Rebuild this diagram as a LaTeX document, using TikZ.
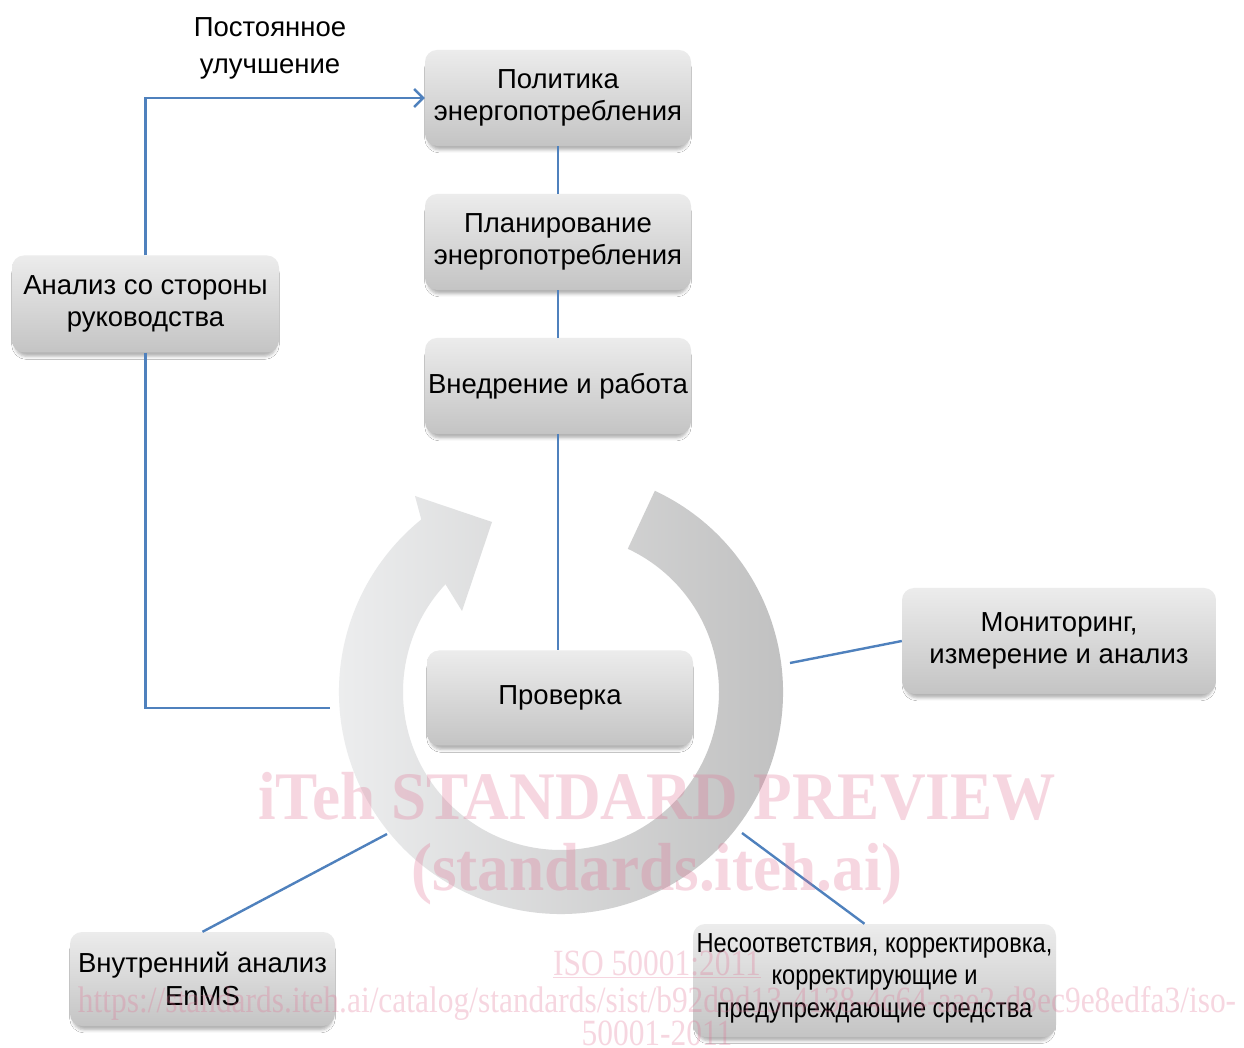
\documentclass[tikz,border=0pt]{standalone}
\usepackage{fontspec}
\setmainfont{Liberation Sans}
\newfontfamily\condfont[FakeStretch=0.86]{Liberation Sans}
\newfontfamily\wmbold[FakeStretch=0.93]{Liberation Serif}
\newfontfamily\wmcond[FakeStretch=0.85]{Liberation Serif}
\usetikzlibrary{arrows.meta,shadows.blur,calc}
\definecolor{lineblue}{RGB}{79,129,189}
\definecolor{boxtop}{RGB}{236,236,236}
\definecolor{boxbot}{RGB}{196,196,196}
\definecolor{ringlight}{RGB}{239,240,241}
\definecolor{ringdark}{RGB}{190,190,190}
\definecolor{wmpink}{RGB}{225,110,145}
\begin{document}
\begin{tikzpicture}[x=1pt,y=1pt,
  stagebox/.style={rounded corners=12pt, top color=boxtop, bottom color=boxbot,
    draw=none, align=center, inner sep=0pt,
    font=\fontsize{27.5}{32.5}\selectfont,
    blur shadow={shadow xshift=0pt, shadow yshift=-5pt, shadow scale=0.98, shadow blur radius=3pt, shadow opacity=30}},
  link/.style={draw=lineblue, line width=2.4pt},
  wm/.style={text=wmpink, opacity=0.28, inner sep=0pt, anchor=base}]
\useasboundingbox[fill=white] (0,0) rectangle (1244,1047);

% circular arrow
\coordinate (rc) at (561,355);
\shade[left color=ringlight, right color=ringdark]
  ($(rc)+(65:222)$) arc[start angle=65, end angle=-231, radius=222]
  -- (415,551) -- (492,525) -- (462,436)
  -- ($(rc)+(137:158)$) arc[start angle=137, end angle=425, radius=158] -- cycle;

% boxes
\node[stagebox, minimum width=266pt, minimum height=96pt] (pol) at (558,949) {Политика\\энергопотребления};
\node[stagebox, minimum width=266pt, minimum height=96pt] (plan) at (558,805) {Планирование\\энергопотребления};
\node[stagebox, minimum width=266pt, minimum height=96pt] (vn) at (558,661) {Внедрение и работа};
\node[stagebox, minimum width=267pt, minimum height=97pt] (an) at (145.5,743) {Анализ со стороны\\руководства};
\node[stagebox, minimum width=266pt, minimum height=95pt] (pr) at (560,349) {Проверка};
\node[stagebox, minimum width=314pt, minimum height=106pt] (mon) at (1059,406) {Мониторинг,\\измерение и анализ};
\node[stagebox, minimum width=265pt, minimum height=94pt] (vnutr) at (202.5,68) {Внутренний анализ\\EnMS};
\node[stagebox, minimum width=363pt, minimum height=113pt, text depth=10pt, font=\condfont\fontsize{27.5}{32.5}\selectfont] (nes) at (874.5,66.5) {Несоответствия, корректировка,\\корректирующие и\\предупреждающие средства};

\node[align=center, inner sep=0pt, font=\fontsize{27.5}{37}\selectfont] (ci) at (270,999) {Постоянное\\улучшение};

% connectors
\coordinate (ringend) at (330,339);
\coordinate (monend) at (790,384);
\coordinate (vnend) at (387,213);
\coordinate (nesend) at (742,214);
\draw[link, -{Straight Barb[length=9pt, width=18pt]}] (an.north) |- (pol.west);
\draw[link] (an.south) |- (ringend);
\draw[link] (pol.south) -- (plan.north);
\draw[link] (plan.south) -- (vn.north);
\draw[link] (vn.south) -- (vn.south |- pr.north);
\draw[link] (mon.west) -- (monend);
\draw[link] (vnutr.north) -- (vnend);
\draw[link] ([xshift=-10pt]nes.north) -- (nesend);

% watermark
\node[wm, font=\wmbold\bfseries\fontsize{68}{68}\selectfont] (wm1) at (657,228) {iTeh STANDARD PREVIEW};
\node[wm, font=\wmbold\bfseries\fontsize{68}{68}\selectfont] (wm2) at (657,157) {(standards.iteh.ai)};
\node[wm, font=\wmcond\fontsize{37}{37}\selectfont] (wm3) at (657,72) {\underline{ISO 50001:2011}};
\node[wm, font=\wmcond\fontsize{37}{37}\selectfont] (wm4) at (657,35) {https://standards.iteh.ai/catalog/standards/sist/b92d9d13-4138-4c64-aae2-d8ec9e8edfa3/iso-};
\node[wm, font=\wmcond\fontsize{37}{37}\selectfont] (wm5) at (657,2) {50001-2011};
\end{tikzpicture}
\end{document}
